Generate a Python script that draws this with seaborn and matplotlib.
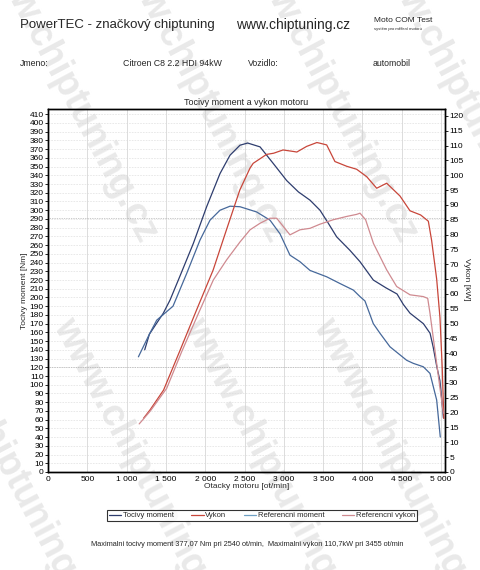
import matplotlib
matplotlib.use("Agg")
import matplotlib.pyplot as plt
from matplotlib.lines import Line2D
from matplotlib.ticker import MultipleLocator
import seaborn as sns

# --- data -------------------------------------------------------------------
tq_rpm = [1230, 1290, 1467, 1552, 1658, 1849, 2018, 2188, 2315, 2442, 2540,
          2697, 2866, 3036, 3185, 3333, 3460, 3566, 3672, 3841, 3969, 4138,
          4300, 4440, 4520, 4605, 4775, 4860, 4900, 4945, 4985, 5010, 5030]
tq_nm = [140, 158, 182, 197, 220, 262, 304, 342, 363, 374.5, 377,
         372.6, 353.5, 334, 321, 311.5, 300, 285, 269.5, 254, 241, 220,
         211, 204, 192, 182, 170, 159, 143, 121, 105, 82, 62]

ref_tq_rpm = [1150, 1290, 1383, 1590, 1764, 1933, 2061, 2188, 2315, 2442,
              2548, 2654, 2824, 2951, 3078, 3205, 3333, 3545, 3714, 3884,
              3969, 4032, 4138, 4223, 4350, 4563, 4647, 4774, 4859, 4944, 4990]
ref_tq_nm = [132, 158, 174, 190, 227.5, 265.7, 288.6, 300, 304.6, 304,
             301, 298, 288.6, 273, 248.5, 241, 231, 223.7, 216, 208.5,
             201, 196, 170, 159, 143.5, 128, 124.5, 120.6, 113, 82.5, 40]

pw_rpm = [1215, 1300, 1470, 1680, 1890, 2100, 2270, 2440, 2570, 2610, 2780,
          2870, 2990, 3120, 3165, 3290, 3420, 3455, 3545, 3650, 3800, 3926,
          4054, 4181, 4308, 4477, 4605, 4740, 4838, 4880, 4944, 4986, 5015, 5035]
pw_kw = [18.1, 21, 27.6, 41, 54.6, 68, 81.6, 95, 102.4, 104, 107,
         107.4, 108.5, 108, 107.8, 109.7, 111, 110.8, 110.2, 104.6, 103, 102,
         99.5, 95.6, 97.3, 93, 88, 86.6, 84.5, 78, 65, 52, 35, 18]

ref_pw_rpm = [1160, 1300, 1510, 1700, 1933, 2103, 2273, 2442, 2570, 2697,
              2824, 2909, 3078, 3205, 3333, 3460, 3630, 3799, 3926, 3969,
              4040, 4140, 4308, 4435, 4605, 4774, 4830, 4859, 4944, 5029]
ref_pw_kw = [16.2, 20.5, 28.2, 40.5, 54.6, 64.7, 71.5, 77.5, 81.6, 83.8,
             85.5, 85.5, 79.9, 81.6, 82.1, 83.5, 85, 86.1, 86.8, 87.2,
             85, 77, 68.1, 62.5, 59.7, 59.1, 58.5, 53.5, 36.6, 19.8]

x_ticks = [0, 500, 1000, 1500, 2000, 2500, 3000, 3500, 4000, 4500, 5000]
x_labels = ["0", "500", "1 000", "1 500", "2 000", "2 500", "3 000",
            "3 500", "4 000", "4 500", "5 000"]

series_names = ["Tocivy moment", "Vykon", "Referencni moment", "Referencni vykon"]
c_tq, c_pw, c_rtq, c_rpw = "#2e3d6e", "#c8463a", "#46689a", "#cf8a90"

# --- style ----------------------------------------------------------------
sns.set_theme(style="white")
plt.rcParams["font.family"] = ["Liberation Sans", "DejaVu Sans"]

fig = plt.figure(figsize=(4.8, 5.7), dpi=100)
fig.patch.set_facecolor("white")

# watermark (scan background), two copies per diagonal band
for cx, cy in [(11, 470), (141, 470), (69, 90), (271, 470),
               (199, 90), (401, 470), (329, 90), (459, 90)]:
    fig.text(cx / 480, 1 - cy / 570, "www.chiptuning.cz", fontsize=27,
             fontweight="bold", color="#e9e9e9", rotation=-62,
             ha="center", va="center", rotation_mode="anchor", zorder=-5)

# header
fig.text(20 / 480, 1 - 25 / 570, "PowerTEC - značkový chiptuning", fontsize=9.5, va="center")
fig.text(236 / 480, 1 - 25 / 570, "www.chiptuning.cz", fontsize=10, va="center")
fig.text(374 / 480, 1 - 20 / 570, "Moto COM Test", fontsize=6, va="center")
fig.text(374 / 480, 1 - 29 / 570, "systém pro měření motorů", fontsize=3, va="center")
for xp, s in [(20, "Jmeno:"), (123, "Citroen C8 2.2 HDI 94kW"),
              (248, "Vozidlo:"), (373, "automobil")]:
    fig.text(xp / 480, 1 - 63 / 570, s, fontsize=6.3, va="center")

# --- axes -----------------------------------------------------------------
ax = fig.add_axes([48 / 480, 1 - 472 / 570, 397 / 480, 363 / 570])
ax.patch.set_visible(False)
ax2 = ax.twinx()

sns.lineplot(x=tq_rpm, y=tq_nm, ax=ax, color=c_tq, lw=0.9, sort=False, estimator=None)
sns.lineplot(x=ref_tq_rpm, y=ref_tq_nm, ax=ax, color=c_rtq, lw=0.9, sort=False, estimator=None)
sns.lineplot(x=pw_rpm, y=pw_kw, ax=ax2, color=c_pw, lw=0.9, sort=False, estimator=None)
sns.lineplot(x=ref_pw_rpm, y=ref_pw_kw, ax=ax2, color=c_rpw, lw=0.9, sort=False, estimator=None)

ax.set_xlim(0, 5050)
ax.set_ylim(0, 416)
ax2.set_ylim(0, 122.3)

ax.set_xticks(x_ticks)
ax.set_xticklabels(x_labels)
ax.xaxis.set_minor_locator(MultipleLocator(100))
ax.yaxis.set_major_locator(MultipleLocator(10))
ax2.yaxis.set_major_locator(MultipleLocator(5))

for a in (ax, ax2):
    a.tick_params(axis="both", which="major", labelsize=6, length=2, width=0.6,
                  pad=1, colors="black", direction="out")
    for sp in a.spines.values():
        sp.set_color("black")
        sp.set_linewidth(1.0)
ax.tick_params(axis="x", which="minor", length=1.2, width=0.4, direction="out")
ax.tick_params(axis="y", left=True)
ax2.tick_params(axis="y", right=True)

# grid
for xv in x_ticks[1:]:
    ax.axvline(xv, color="#cfcfcf", lw=0.5, zorder=0)
for yv in range(10, 416, 10):
    ax.axhline(yv, color="#d9d9d9", lw=0.4, ls=(0, (3, 2)), zorder=0)
for yv in (120, 291):
    ax.axhline(yv, color="#9a9a9a", lw=0.5, ls=(0, (1, 1.5)), zorder=0)

ax.set_title("Tocivy moment a vykon motoru", fontsize=6.5, pad=3)
ax.set_xlabel("Otacky motoru [ot/min]", fontsize=6, labelpad=0)
ax.set_ylabel("Tocivy moment [Nm]", fontsize=6)
ax.yaxis.set_label_coords(-0.05, 0.5)
ax2.set_ylabel("Vykon [kW]", fontsize=6, rotation=270)
ax2.yaxis.set_label_coords(1.062, 0.53)

handles = [Line2D([], [], color=c, lw=0.9) for c in (c_tq, c_pw, "#6fa0c4", c_rpw)]
leg = fig.legend(handles, series_names, loc="center", ncol=4,
                 bbox_to_anchor=(262 / 480, 1 - 515.5 / 570), fontsize=5.5,
                 frameon=True, fancybox=False, edgecolor="black",
                 handlelength=1.6, handletextpad=0.2, columnspacing=2.3,
                 borderpad=0.25, borderaxespad=0)
leg.get_frame().set_linewidth(0.8)

fig.text(247 / 480, 1 - 544 / 570,
         "Maximalni tocivy moment 377,07 Nm pri 2540 ot/min,  "
         "Maximalni vykon 110,7kW pri 3455 ot/min",
         fontsize=5.3, ha="center", va="center")

fig.savefig("out.png", dpi=100)
